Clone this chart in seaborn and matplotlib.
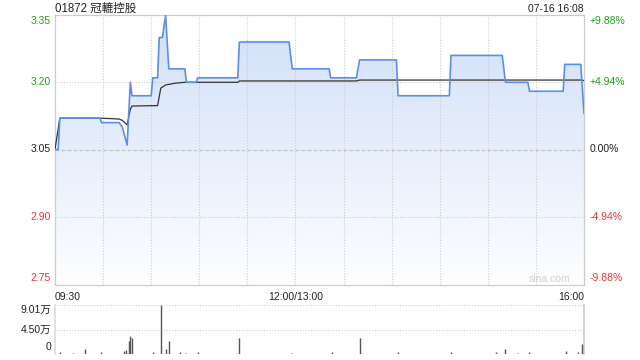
import numpy as np
import pandas as pd
import matplotlib
matplotlib.use("Agg")
import matplotlib.pyplot as plt
import seaborn as sns
from matplotlib.transforms import blended_transform_factory, ScaledTranslation

# ---------------- data ----------------
title = "01872 冠轆控股"
stamp = "07-16 16:08"
prev_close = 3.05
# minutes since 09:30 (trading minutes, lunch removed) and price
price_min = [0, 2, 3, 28, 29, 40, 42, 45, 47, 48, 60, 61, 64, 65, 67, 69, 71, 81, 82,
             88, 89, 114, 115, 146, 148, 171, 172, 188, 190, 213, 214, 246, 247,
             279, 281, 295, 296, 317, 318, 328, 330]
price_val = [3.05, 3.05, 3.12, 3.12, 3.11, 3.11, 3.10, 3.06, 3.20, 3.17, 3.17, 3.21, 3.21,
             3.30, 3.30, 3.35, 3.23, 3.23, 3.20, 3.20, 3.21, 3.21, 3.29, 3.29, 3.23,
             3.23, 3.21, 3.21, 3.25, 3.25, 3.17, 3.17, 3.26, 3.26, 3.20, 3.20, 3.18,
             3.18, 3.24, 3.24, 3.13]
avg_min = [0, 3, 28, 40, 42, 45, 47, 48, 64, 66, 69, 75, 81, 114, 115, 188, 190, 328, 330]
avg_val = [3.05, 3.12, 3.12, 3.118, 3.115, 3.105, 3.14, 3.147, 3.148, 3.187, 3.194,
           3.198, 3.20, 3.20, 3.203, 3.203, 3.205, 3.205, 3.204]
vol_min = [3, 11, 19, 29, 43, 44, 46, 47, 48, 61, 66, 69, 71, 78, 82, 89, 115, 148,
           173, 190, 214, 247, 275, 281, 288, 296, 319, 326, 329]
vol_val = [0.3, 0.2, 0.9, 0.3, 0.5, 0.8, 2.3, 3.3, 2.9, 0.3, 9.01, 1.0, 2.4, 0.3, 0.2,
           0.3, 2.9, 0.2, 0.3, 2.9, 0.3, 0.3, 0.3, 1.0, 0.2, 0.3, 0.6, 0.4, 1.8]
left_ticks = [3.35, 3.20, 3.05, 2.90, 2.75]
right_labels = ["+9.88%", "+4.94%", "0.00%", "-4.94%", "-9.88%"]
tick_colors = ["#1ea01e", "#1ea01e", "#222222", "#ee3333", "#ee3333"]
x_labels = ["09:30", "12:00/13:00", "16:00"]
x_label_pos = [0, 150, 330]
vol_ticks = [9.01, 4.50, 0]
vol_labels = ["9.01万", "4.50万", "0"]

# ---------------- style ----------------
sns.set_theme(style="white")
plt.rcParams["font.family"] = ["Liberation Sans", "Noto Sans CJK TC", "DejaVu Sans"]
FS = 7.5

fig = plt.figure(figsize=(6.4, 3.6), dpi=100)
ax = fig.add_axes([55 / 640, 1 - 284.5 / 360, 529 / 640, 270 / 360])
axv = fig.add_axes([55 / 640, 1 - 354 / 360, 529 / 640, 49 / 360])

ylo, yhi = prev_close * (1 - 0.0988), prev_close * (1 + 0.0988)
ax.set_xlim(0, 330)
ax.set_ylim(ylo, yhi)

dfp = pd.DataFrame({"t": price_min, "p": price_val})
dfa = pd.DataFrame({"t": avg_min, "p": avg_val})

# gradient fill under price
poly = ax.fill_between(dfp["t"], dfp["p"], ylo, facecolor="none", edgecolor="none")
grad = np.linspace(0, 1, 256).reshape(-1, 1)
top = np.array([208, 223, 248]) / 255
bot = np.array([253, 254, 255]) / 255
img = top[None, None, :] * (1 - grad[:, :, None]) + bot[None, None, :] * grad[:, :, None]
im = ax.imshow(img, extent=[0, 330, ylo, yhi], aspect="auto", origin="upper", zorder=1)
im.set_clip_path(poly.get_paths()[0], transform=ax.transData)

# grid
for m in range(30, 330, 30):
    ax.axvline(m, color="#cccccc", lw=0.8, ls=(0, (1, 1.5)), zorder=2)
for y in [3.20, 2.90]:
    ax.axhline(y, color="#cccccc", lw=0.8, ls=(0, (1, 1.5)), zorder=2)
ax.axhline(prev_close, color="#c4c4c4", lw=0.9, ls=(0, (3, 1.8)), zorder=2)

sns.lineplot(data=dfa, x="t", y="p", ax=ax, color="#333333", lw=0.9, zorder=3, estimator=None)
sns.lineplot(data=dfp, x="t", y="p", ax=ax, color="#5b8fe8", lw=1.2, zorder=4, estimator=None)

ax.set_xlabel("")
ax.set_ylabel("")
ax.set_xticks([])
ax.set_yticks([])
for s in ax.spines.values():
    s.set_color("#cccccc")
    s.set_linewidth(0.9)

trans_l = blended_transform_factory(ax.transAxes, ax.transData)
shifts = [-6, 0, 0, 0, 6]
for v, lab, c, sh in zip(left_ticks, right_labels, tick_colors, shifts):
    off = ScaledTranslation(0, sh / 100, fig.dpi_scale_trans)
    ax.text(-4 / 529, v, f"{v:.2f}", transform=trans_l + off, ha="right", va="center",
            fontsize=FS, color=c)
    ax.text(1 + 6 / 529, v, lab, transform=trans_l + off, ha="left", va="center",
            fontsize=FS, color=c)

ax.text(0, 1 + 6 / 270, title, transform=ax.transAxes, ha="left", va="center",
        fontsize=8.3, color="#222222")
ax.text(1, 1 + 6 / 270, stamp, transform=ax.transAxes, ha="right", va="center",
        fontsize=FS, color="#222222")
ax.text(0.935, 5 / 270, "sina.com", transform=ax.transAxes, ha="center", va="center",
        fontsize=FS, color="#cfcfcf")

for pos, lab in zip(x_label_pos, x_labels):
    ha = "left" if pos == 0 else ("right" if pos == 330 else "center")
    ax.text(pos, -12 / 270, lab, transform=blended_transform_factory(ax.transData, ax.transAxes),
            ha=ha, va="center", fontsize=FS, color="#222222")

# ---------------- volume ----------------
axv.set_xlim(0, 330)
axv.set_ylim(0, 9.01)
axv.axhline(4.50, color="#cccccc", lw=0.8, ls=(0, (1, 1.5)), zorder=1)
axv.axhline(9.01, color="#cccccc", lw=0.8, ls=(0, (1, 1.5)), zorder=1)
axv.axhline(0, color="#aaaaaa", lw=0.8, ls=(0, (1, 1.5)), zorder=2)
axv.vlines(vol_min, 0, vol_val, color="#555555", lw=1.0, zorder=3)
axv.set_xticks([])
axv.set_yticks([])
for k, s in axv.spines.items():
    s.set_visible(False)
axv.spines["left"].set_visible(True)
axv.spines["left"].set_color("#dddddd")
axv.spines["right"].set_visible(True)
axv.spines["right"].set_color("#cccccc")
trans_v = blended_transform_factory(axv.transAxes, axv.transData)
vshift = [-5, 0, 7]
for v, lab, sh in zip(vol_ticks, vol_labels, vshift):
    off = ScaledTranslation(0, sh / 100, fig.dpi_scale_trans)
    axv.text(-4 / 529, v, lab, transform=trans_v + off, ha="right", va="center",
             fontsize=FS, color="#222222")

fig.savefig("out.png", dpi=100)
